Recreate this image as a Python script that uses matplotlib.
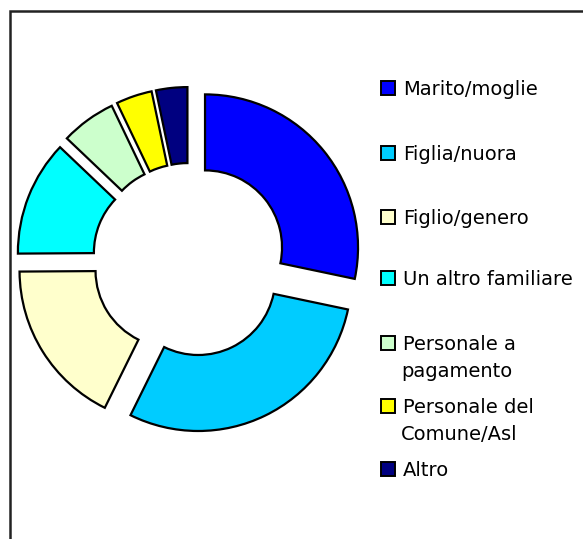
import matplotlib.pyplot as plt
from matplotlib.patches import Rectangle

# dati del grafico (percentuali)
categorie = ['Marito/moglie', 'Figlia/nuora', 'Figlio/genero', 'Un altro familiare',
             'Personale a\npagamento', 'Personale del\nComune/Asl', 'Altro']
valori = [28.3, 29.0, 17.6, 12.2, 5.8, 3.8, 3.3]
colori = ['#0000FF', '#00CCFF', '#FFFFCC', '#00FFFF', '#CCFFCC', '#FFFF00', '#000080']

W, H = 583, 539
fig = plt.figure(figsize=(W / 100, H / 100), dpi=100)
ax = fig.add_axes([0, 0, 1, 1])

# coordinate in pixel (y dal basso)
cx, cy = 189.5, H - 260
R = 153
ax.pie(valori, colors=colori, startangle=90, counterclock=False,
       radius=R, center=(cx, cy), explode=[20] * len(valori),
       wedgeprops=dict(width=76, edgecolor='black', linewidth=1.6))
ax.set_xlim(0, W)
ax.set_ylim(0, H)
ax.set_aspect('equal')
ax.axis('off')

# cornice (solo lato sinistro e superiore visibili)
ax.plot([10, 10, W], [0, H - 11, H - 11], color='#222222', lw=1.8,
        solid_joinstyle='miter', clip_on=False)

# legenda disegnata a mano
baseline = [95, 160, 224, 285, 350, 413, 476]
for nome, col, yb in zip(categorie, colori, baseline):
    ax.add_patch(Rectangle((381, H - yb), 14, 14, facecolor=col,
                           edgecolor='black', lw=1.4))
    for i, riga in enumerate(nome.split('\n')):
        ax.text(403 if i == 0 else 401, H - yb - i * 27, riga, fontsize=14,
                family='DejaVu Sans', va='baseline', ha='left', color='black')

fig.savefig('out.png', dpi=100)
